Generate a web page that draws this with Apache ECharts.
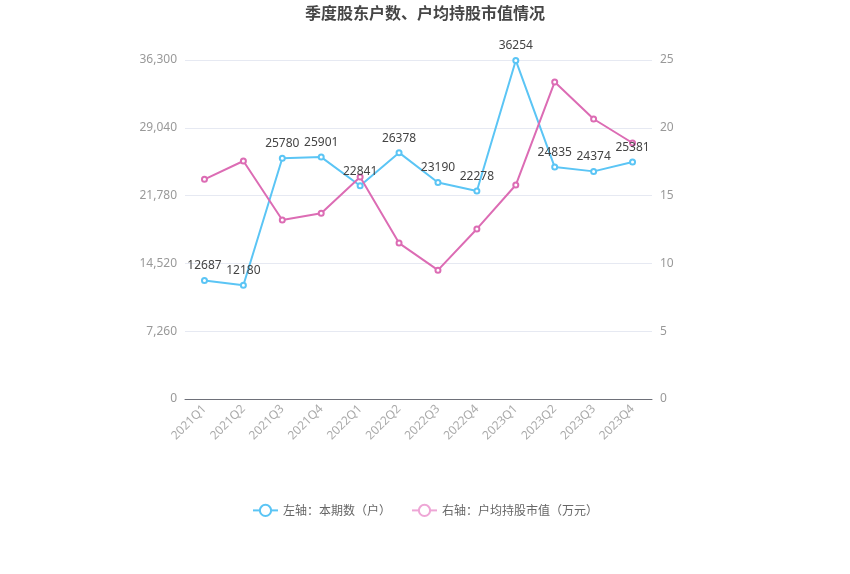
<!DOCTYPE html>
<html><head><meta charset="utf-8">
<script src="https://cdn.jsdelivr.net/npm/echarts@6/dist/echarts.min.js"></script>
<style>html,body{margin:0;padding:0;background:#fff}#c{width:850px;height:574px}</style>
</head><body><div id="c"></div>
<script>
var categories = ['2021Q1','2021Q2','2021Q3','2021Q4','2022Q1','2022Q2','2022Q3','2022Q4','2023Q1','2023Q2','2023Q3','2023Q4'];
var holders = [12687,12180,25780,25901,22841,26378,23190,22278,36254,24835,24374,25381];
var avgValue = [16.2,17.55,13.2,13.7,16.37,11.5,9.5,12.54,15.78,23.38,20.65,18.88];
var leftTicks = {min:0, max:36300, interval:7260};
var rightTicks = {min:0, max:25, interval:5};

var chart = echarts.init(document.getElementById('c'));
chart.setOption({
  animation:false,
  title:{text:'季度股东户数、户均持股市值情况', left:'center', top:0,
    textStyle:{fontSize:16, fontWeight:'bold', color:'#464646', fontFamily:'Noto Sans CJK SC'}},
  grid:{left:185, right:198, top:60, bottom:175},
  legend:{bottom:52, left:'center', itemWidth:25, itemHeight:14, itemGap:20,
    textStyle:{color:'#666', fontSize:12, fontFamily:'Noto Sans CJK SC'},
    data:[{name:'左轴：本期数（户）'},
          {name:'右轴：户均持股市值（万元）', itemStyle:{color:'#eea6d6', borderColor:'#eea6d6'}, lineStyle:{color:'#eea6d6'}}]},
  xAxis:{type:'category', data:categories,
    axisLine:{lineStyle:{color:'#6e7079'}},
    axisTick:{alignWithLabel:true, lineStyle:{color:'#6e7079'}},
    axisLabel:{rotate:45, color:'#aaa', fontSize:12, fontFamily:'Noto Sans', interval:0}},
  yAxis:[{type:'value', min:leftTicks.min, max:leftTicks.max, interval:leftTicks.interval,
    axisLabel:{color:'#999', fontSize:12, fontFamily:'Noto Sans',
      formatter:function(v){return v.toLocaleString('en-US');}},
    splitLine:{lineStyle:{color:'#e6e9f2'}}},
   {type:'value', min:rightTicks.min, max:rightTicks.max, interval:rightTicks.interval,
    axisLabel:{color:'#999', fontSize:12, fontFamily:'Noto Sans'},
    splitLine:{show:false}}],
  series:[
   {name:'左轴：本期数（户）', type:'line', yAxisIndex:0, data:holders,
    symbol:'emptyCircle', symbolSize:5, color:'#5bc5f5',
    lineStyle:{width:2, color:'#5bc5f5'},
    label:{show:true, position:'top', color:'#444', fontSize:12, fontFamily:'Noto Sans'}},
   {name:'右轴：户均持股市值（万元）', type:'line', yAxisIndex:1, data:avgValue,
    symbol:'emptyCircle', symbolSize:5, color:'#dc6cb4',
    lineStyle:{width:2, color:'#dc6cb4'}}
  ]
});
</script></body></html>
